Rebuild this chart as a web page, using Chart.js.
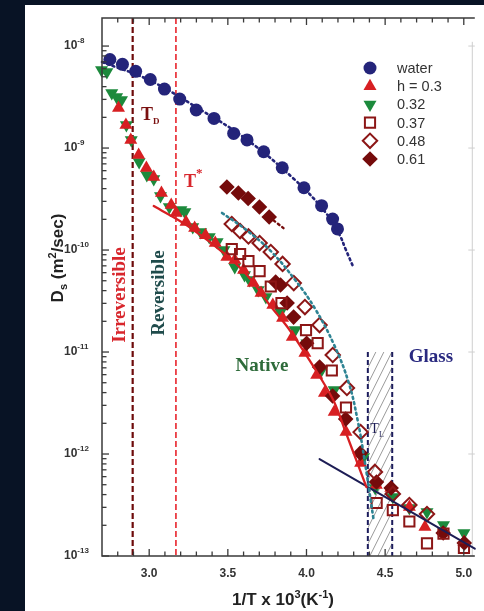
<!DOCTYPE html>
<html>
<head>
<meta charset="utf-8">
<script src="https://cdn.jsdelivr.net/npm/chart.js@4.4.0/dist/chart.umd.min.js"></script>
<style>
  html, body { margin: 0; padding: 0; background: #081325; overflow: hidden; }
  canvas { display: block; }
</style>
</head>
<body>
<canvas id="chart" width="484" height="611"></canvas>
<script>
// Self-diffusion coefficient D_s (m^2/s) against 1/T (10^3 K^-1)

// bulk water
const waterX = [2.750, 2.830, 2.914, 3.007, 3.097, 3.194, 3.299, 3.412, 3.537, 3.622, 3.728, 3.846, 3.984, 4.096, 4.166, 4.197];
const waterD = [7.38e-9, 6.62e-9, 5.65e-9, 4.70e-9, 3.79e-9, 3.02e-9, 2.36e-9, 1.95e-9, 1.39e-9, 1.20e-9, 9.20e-10, 6.41e-10, 4.08e-10, 2.72e-10, 2.01e-10, 1.61e-10];

// hydration h = 0.3
const h030X = [2.805, 2.852, 2.883, 2.933, 2.982, 3.029, 3.078, 3.140, 3.171, 3.234, 3.289, 3.358, 3.420, 3.494, 3.544, 3.600, 3.662, 3.711, 3.786, 3.848, 3.910, 3.990, 4.065, 4.114, 4.176, 4.251, 4.344, 4.444, 4.536, 4.654, 4.753, 5.001];
const h030D = [2.47e-9, 1.68e-9, 1.20e-9, 8.53e-10, 6.37e-10, 5.20e-10, 3.62e-10, 2.76e-10, 2.31e-10, 1.88e-10, 1.64e-10, 1.40e-10, 1.17e-10, 8.53e-11, 7.98e-11, 6.37e-11, 4.74e-11, 3.79e-11, 2.89e-11, 2.15e-11, 1.40e-11, 9.77e-12, 5.96e-12, 3.96e-12, 2.58e-12, 1.64e-12, 8.17e-13, 4.97e-13, 4.65e-13, 3.02e-13, 1.92e-13, 1.37e-13];

// h = 0.32
const h032X = [2.697, 2.731, 2.762, 2.793, 2.824, 2.855, 2.886, 2.936, 2.985, 3.029, 3.072, 3.128, 3.202, 3.227, 3.277, 3.327, 3.382, 3.432, 3.475, 3.544, 3.606, 3.637, 3.693, 3.742, 3.835, 3.928, 4.003, 4.096, 4.176, 4.363, 4.437, 4.549, 4.654, 4.766, 4.871, 5.001];
const h032D = [5.82e-9, 5.56e-9, 3.46e-9, 3.16e-9, 2.96e-9, 1.68e-9, 1.20e-9, 7.30e-10, 5.43e-10, 4.97e-10, 3.38e-10, 2.64e-10, 2.47e-10, 2.36e-10, 1.68e-10, 1.50e-10, 1.34e-10, 1.20e-10, 1.00e-10, 6.81e-11, 5.69e-11, 5.08e-11, 4.06e-11, 3.46e-11, 2.47e-11, 1.64e-11, 1.22e-11, 6.67e-12, 4.24e-12, 9.35e-13, 4.65e-13, 3.79e-13, 2.96e-13, 2.70e-13, 2.01e-13, 1.68e-13];

// h = 0.37
const h037X = [3.525, 3.578, 3.631, 3.702, 3.773, 3.841, 3.997, 4.071, 4.161, 4.251, 4.446, 4.549, 4.654, 4.766, 4.871, 5.001];
const h037D = [1.02e-10, 9.14e-11, 7.80e-11, 6.22e-11, 4.39e-11, 3.02e-11, 1.64e-11, 1.22e-11, 6.59e-12, 2.86e-12, 3.31e-13, 2.82e-13, 2.18e-13, 1.33e-13, 1.66e-13, 1.20e-13];

// h = 0.48
const h048X = [3.525, 3.578, 3.631, 3.702, 3.773, 3.848, 3.919, 3.990, 4.083, 4.167, 4.257, 4.344, 4.435, 4.549, 4.654, 4.766];
const h048D = [1.80e-10, 1.53e-10, 1.36e-10, 1.17e-10, 9.55e-11, 7.30e-11, 4.74e-11, 2.76e-11, 1.84e-11, 9.35e-12, 4.44e-12, 1.64e-12, 6.67e-13, 4.06e-13, 3.16e-13, 2.58e-13];

// h = 0.61
const h061X = [3.494, 3.567, 3.629, 3.701, 3.763, 3.804, 3.835, 3.877, 3.918, 4.001, 4.083, 4.166, 4.249, 4.342, 4.445, 4.538, 4.869, 5.003];
const h061D = [4.15e-10, 3.62e-10, 3.20e-10, 2.64e-10, 2.11e-10, 4.85e-11, 4.54e-11, 3.02e-11, 2.20e-11, 1.22e-11, 7.13e-12, 3.70e-12, 2.20e-12, 1.02e-12, 5.31e-13, 4.65e-13, 1.68e-13, 1.34e-13];

// fitted curves
const waterFitX = [2.700, 2.998, 3.308, 3.618, 3.928, 4.114, 4.207, 4.251, 4.300];
const waterFitD = [6.97e-9, 4.65e-9, 2.47e-9, 1.22e-9, 4.85e-10, 2.41e-10, 1.44e-10, 1.00e-10, 6.67e-11];
const nativeFitX = [3.029, 3.246, 3.506, 3.649, 3.761, 3.879, 3.990, 4.090, 4.176, 4.251, 4.319, 4.381];
const nativeFitD = [2.70e-10, 1.72e-10, 8.53e-11, 5.08e-11, 2.96e-11, 1.76e-11, 9.77e-12, 5.56e-12, 3.24e-12, 1.61e-12, 8.53e-13, 4.74e-13];
const hydratedFitX = [3.463, 3.618, 3.773, 3.928, 4.052, 4.176, 4.269, 4.325, 4.369, 4.425];
const hydratedFitD = [2.31e-10, 1.57e-10, 9.77e-11, 5.08e-11, 2.70e-11, 1.17e-11, 4.97e-12, 2.15e-12, 8.73e-13, 2.36e-13];
const glassFitX = [4.083, 5.070];
const glassFitD = [8.93e-13, 1.18e-13];
const h061TailX = [3.763, 3.854];
const h061TailD = [2.11e-10, 1.64e-10];

// characteristic temperatures (1/T) and the glass band
const tD = 2.895;
const tStar = 3.17;
const glassBand = [4.39, 4.545];
const glassTop = 1e-11;

// axes
const xRange = [2.70, 5.07];
const yRange = [1e-13, 1.884e-8];
const xMajorTicks = [3.0, 3.5, 4.0, 4.5, 5.0];
const xTickLabels = ['3.0', '3.5', '4.0', '4.5', '5.0'];
const xMinorTicks = [2.8, 2.9, 3.1, 3.2, 3.3, 3.4, 3.6, 3.7, 3.8, 3.9, 4.1, 4.2, 4.3, 4.4, 4.6, 4.7, 4.8, 4.9];
const yMajorTicks = [1e-13, 1e-12, 1e-11, 1e-10, 1e-9, 1e-8];
const yTickExponents = ['-13', '-12', '-11', '-10', '-9', '-8'];
const yMinorMantissas = [2, 3, 4, 5, 6, 7, 8, 9];

const legendLabels = ['water', 'h = 0.3', '0.32', '0.37', '0.48', '0.61'];

const NAVY = '#24247a', RED = '#d71f22', GREEN = '#1c8a3c', MAROON = '#8c1616', DKMAROON = '#750b0b', TEAL = '#2d8393';
const SANS = '"Liberation Sans", Arial, sans-serif';
const SERIF = '"Liberation Serif", "Times New Roman", serif';

const pts = (xs, ys) => xs.map((x, i) => ({ x: x, y: ys[i] }));

const markerSets = [
  { label: legendLabels[0], data: pts(waterX, waterD), pointStyle: 'circle', pointRadius: 6.5, pointRotation: 0,
    backgroundColor: NAVY, borderColor: NAVY, pointBorderWidth: 0, order: 3 },
  { label: legendLabels[1], data: pts(h030X, h030D), pointStyle: 'triangle', pointRadius: 7.5, pointRotation: 0,
    backgroundColor: RED, borderColor: RED, pointBorderWidth: 0, order: 6 },
  { label: legendLabels[2], data: pts(h032X, h032D), pointStyle: 'triangle', pointRadius: 7.5, pointRotation: 180,
    backgroundColor: GREEN, borderColor: GREEN, pointBorderWidth: 0, order: 7 },
  { label: legendLabels[3], data: pts(h037X, h037D), pointStyle: 'rect', pointRadius: 7.2, pointRotation: 0,
    backgroundColor: 'rgba(255,255,255,0)', borderColor: MAROON, pointBorderWidth: 2, order: 4 },
  { label: legendLabels[4], data: pts(h048X, h048D), pointStyle: 'rectRot', pointRadius: 7.2, pointRotation: 0,
    backgroundColor: 'rgba(255,255,255,0)', borderColor: MAROON, pointBorderWidth: 2, order: 4 },
  { label: legendLabels[5], data: pts(h061X, h061D), pointStyle: 'rectRot', pointRadius: 7.8, pointRotation: 0,
    backgroundColor: DKMAROON, borderColor: DKMAROON, pointBorderWidth: 0, order: 5 }
];

const lineSets = [
  { data: pts(waterFitX, waterFitD), borderColor: NAVY, borderWidth: 2.6, borderDash: [2, 3.5], tension: 0.4 },
  { data: pts(nativeFitX, nativeFitD), borderColor: RED, borderWidth: 2.3, borderDash: [], tension: 0.35 },
  { data: pts(hydratedFitX, hydratedFitD), borderColor: TEAL, borderWidth: 2.6, borderDash: [2, 3.5], tension: 0.4 },
  { data: pts(glassFitX, glassFitD), borderColor: '#1d1d55', borderWidth: 2, borderDash: [], tension: 0 },
  { data: pts(h061TailX, h061TailD), borderColor: DKMAROON, borderWidth: 2.4, borderDash: [2, 3.5], tension: 0 }
];

const datasets = [
  ...lineSets.map(s => Object.assign({ showLine: true, pointRadius: 0, fill: false, order: 0, clip: false,
    borderCapStyle: 'round' }, s)),
  ...markerSets.map(s => Object.assign({ showLine: false, clip: false }, s))
];

// draws a run of text pieces (for sub/superscripts) starting at x on a baseline
function richWidth(ctx, parts) {
  let w = 0;
  for (const p of parts) { ctx.font = p.font; w += ctx.measureText(p.t).width; }
  return w;
}
function drawRich(ctx, parts, x, y, align) {
  let cx = align === 'center' ? x - richWidth(ctx, parts) / 2 : x;
  ctx.textAlign = 'left';
  for (const p of parts) {
    ctx.font = p.font;
    ctx.fillText(p.t, cx, y + (p.dy || 0));
    cx += ctx.measureText(p.t).width;
  }
}

function drawMarker(ctx, ds, x, y) {
  ctx.save();
  ctx.fillStyle = ds.backgroundColor;
  ctx.strokeStyle = ds.borderColor;
  ctx.lineWidth = ds.pointBorderWidth;
  Chart.helpers.drawPoint(ctx, {
    pointStyle: ds.pointStyle, rotation: ds.pointRotation, radius: ds.pointRadius,
    borderWidth: ds.pointBorderWidth
  }, x, y);
  ctx.restore();
}

const decor = {
  id: 'decor',
  beforeDraw(chart) {
    const c = chart.ctx;
    c.save();
    c.fillStyle = '#081325';
    c.fillRect(0, 0, chart.width, chart.height);
    c.fillStyle = '#ffffff';
    c.fillRect(25, 5, chart.width - 25, chart.height - 5);
    c.restore();
  },
  beforeDatasetsDraw(chart) {
    const c = chart.ctx, a = chart.chartArea, sx = chart.scales.x, sy = chart.scales.y;
    c.save();
    // faint axis of the neighbouring panel at the right edge
    c.strokeStyle = '#cfcfcf'; c.lineWidth = 1;
    const nx = a.right - 2.5;
    c.beginPath(); c.moveTo(nx, sy.getPixelForValue(1.1e-8)); c.lineTo(nx, a.bottom); c.stroke();
    yMajorTicks.forEach(d => {
      const p = sy.getPixelForValue(d);
      c.beginPath(); c.moveTo(nx - 4, p); c.lineTo(a.right, p); c.stroke();
    });
    c.restore();

    // hatched glass-transition band
    const gx1 = sx.getPixelForValue(glassBand[0]), gx2 = sx.getPixelForValue(glassBand[1]);
    const gTop = sy.getPixelForValue(glassTop), gBot = a.bottom, h = gBot - gTop;
    c.save();
    c.beginPath(); c.rect(gx1, gTop, gx2 - gx1, h); c.clip();
    c.strokeStyle = '#8e8e8e'; c.lineWidth = 0.9;
    for (let k = -h / 2; k < gx2 - gx1 + 4; k += 8) {
      c.beginPath(); c.moveTo(gx1 + k, gBot); c.lineTo(gx1 + k + h / 2, gTop); c.stroke();
    }
    c.restore();
    c.save();
    c.setLineDash([5, 3]);
    c.strokeStyle = '#1c1c5c'; c.lineWidth = 2;
    for (const gx of [gx1, gx2]) {
      c.beginPath(); c.moveTo(gx, gTop); c.lineTo(gx, gBot); c.stroke();
    }
    // T_D and T* guides
    c.setLineDash([6, 3]);
    c.strokeStyle = '#6e0b0b'; c.lineWidth = 2.2;
    let px = sx.getPixelForValue(tD);
    c.beginPath(); c.moveTo(px, a.top); c.lineTo(px, a.bottom); c.stroke();
    c.strokeStyle = '#e8242c'; c.lineWidth = 1.6;
    px = sx.getPixelForValue(tStar);
    c.beginPath(); c.moveTo(px, a.top); c.lineTo(px, a.bottom); c.stroke();
    c.restore();
  },
  afterDatasetsDraw(chart) {
    const c = chart.ctx, a = chart.chartArea, sx = chart.scales.x, sy = chart.scales.y;
    c.save();
    // frame
    c.strokeStyle = '#3a3a3a'; c.lineWidth = 1.5;
    c.beginPath();
    c.moveTo(a.right, a.top); c.lineTo(a.left, a.top); c.lineTo(a.left, a.bottom); c.lineTo(a.right, a.bottom);
    c.stroke();
    // x ticks (bottom and top, pointing inward)
    c.lineWidth = 1.3;
    const xTick = (v, len) => {
      const p = sx.getPixelForValue(v);
      c.beginPath(); c.moveTo(p, a.bottom); c.lineTo(p, a.bottom - len);
      c.moveTo(p, a.top); c.lineTo(p, a.top + len); c.stroke();
    };
    xMajorTicks.forEach(v => xTick(v, 7));
    xMinorTicks.forEach(v => xTick(v, 4.5));
    // y ticks (left, pointing inward)
    const yTick = (v, len) => {
      const p = sy.getPixelForValue(v);
      if (p < a.top - 0.5) return;
      c.beginPath(); c.moveTo(a.left, p); c.lineTo(a.left + len, p); c.stroke();
    };
    yMajorTicks.forEach(v => yTick(v, 7));
    yMajorTicks.slice(0, -1).forEach(d => yMinorMantissas.forEach(m => yTick(m * d, 4.5)));

    // tick labels
    c.fillStyle = '#333333';
    c.textBaseline = 'middle';
    xMajorTicks.forEach((v, i) => {
      c.font = 'bold 12px ' + SANS;
      c.textAlign = 'center';
      c.fillText(xTickLabels[i], sx.getPixelForValue(v), a.bottom + 18);
    });
    yMajorTicks.forEach((v, i) => {
      const p = sy.getPixelForValue(v);
      drawRich(c, [
        { t: '10', font: 'bold 12px ' + SANS },
        { t: yTickExponents[i], font: 'bold 8px ' + SANS, dy: -5 }
      ], 64, p, 'left');
    });

    // axis titles
    c.fillStyle = '#222222';
    c.textBaseline = 'alphabetic';
    drawRich(c, [
      { t: '1/T x 10', font: 'bold 17px ' + SANS },
      { t: '3', font: 'bold 11px ' + SANS, dy: -7 },
      { t: '(K', font: 'bold 17px ' + SANS },
      { t: '-1', font: 'bold 11px ' + SANS, dy: -7 },
      { t: ')', font: 'bold 17px ' + SANS }
    ], 283, 605, 'center');
    c.save();
    c.translate(63, 258);
    c.rotate(-Math.PI / 2);
    drawRich(c, [
      { t: 'D', font: 'bold 17px ' + SANS },
      { t: 's', font: 'bold 11px ' + SANS, dy: 4 },
      { t: ' (m', font: 'bold 17px ' + SANS },
      { t: '2', font: 'bold 11px ' + SANS, dy: -7 },
      { t: '/sec)', font: 'bold 17px ' + SANS }
    ], 0, 0, 'center');
    c.restore();

    // region annotations
    const X = v => sx.getPixelForValue(v), Y = v => sy.getPixelForValue(v);
    c.fillStyle = '#7a1010';
    drawRich(c, [
      { t: 'T', font: 'bold 18px ' + SERIF },
      { t: 'D', font: 'bold 9px ' + SERIF, dy: 4 }
    ], X(2.948), Y(1.90e-9), 'left');
    c.fillStyle = '#d8262c';
    drawRich(c, [
      { t: 'T', font: 'bold 18px ' + SERIF },
      { t: '*', font: 'bold 13px ' + SERIF, dy: -10 }
    ], X(3.221), Y(4.15e-10), 'left');
    c.fillStyle = '#1d1d55';
    drawRich(c, [
      { t: 'T', font: '14px ' + SERIF },
      { t: 'L', font: '8px ' + SERIF, dy: 4 }
    ], X(4.406), Y(1.61e-12), 'left');

    c.textBaseline = 'middle';
    c.textAlign = 'center';
    c.font = 'bold 19px ' + SERIF;
    c.fillStyle = '#2e6b3a';
    c.fillText('Native', X(3.717), Y(7.30e-12));
    c.fillStyle = '#2a2a80';
    c.fillText('Glass', X(4.791), Y(8.93e-12));
    const vertical = (txt, color, x, y) => {
      c.save();
      c.translate(x, y); c.rotate(-Math.PI / 2);
      c.fillStyle = color; c.fillText(txt, 0, 0);
      c.restore();
    };
    vertical('Irreversible', '#d8262c', X(2.812), Y(3.62e-11));
    vertical('Reversible', '#1f4b4b', X(3.060), Y(3.79e-11));

    // legend
    const lx = 370, tx = 397, ly0 = 68, dy = 18.2;
    markerSets.forEach((ds, i) => {
      const y = ly0 + i * dy;
      drawMarker(c, ds, lx, y);
      c.fillStyle = '#333333';
      c.font = '14.5px ' + SANS;
      c.textAlign = 'left';
      c.textBaseline = 'middle';
      c.fillText(ds.label, tx, y + 1);
    });
    c.restore();
  }
};

new Chart(document.getElementById('chart'), {
  type: 'scatter',
  data: { datasets: datasets },
  options: {
    responsive: false,
    animation: false,
    devicePixelRatio: 1,
    layout: { padding: { left: 102, top: 18, right: 0, bottom: 55 } },
    scales: {
      x: { type: 'linear', display: false, min: xRange[0], max: xRange[1], bounds: 'data' },
      y: { type: 'logarithmic', display: false, min: yRange[0], max: yRange[1], bounds: 'data' }
    },
    plugins: { legend: { display: false }, tooltip: { enabled: false } },
    events: []
  },
  plugins: [decor]
});
</script>
</body>
</html>
